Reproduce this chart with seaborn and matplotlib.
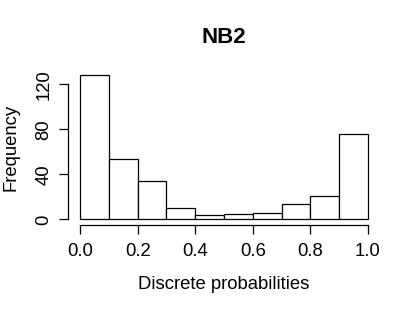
import numpy as np
import pandas as pd
import matplotlib
matplotlib.use("Agg")
import matplotlib.pyplot as plt
import seaborn as sns

# Histogram bins (0.1 wide) and counts
bin_edges = [0.0, 0.1, 0.2, 0.3, 0.4, 0.5, 0.6, 0.7, 0.8, 0.9, 1.0]
counts = [128, 54, 34, 10, 4, 5, 6, 14, 21, 76]
x_ticks = [0.0, 0.2, 0.4, 0.6, 0.8, 1.0]
y_ticks = [0, 40, 80, 120]

sns.set_style("white")
plt.rcParams['font.family'] = ['Liberation Sans', 'DejaVu Sans']
plt.rcParams['text.color'] = 'black'
plt.rcParams['axes.labelcolor'] = 'black'
plt.rcParams['xtick.color'] = 'black'
plt.rcParams['ytick.color'] = 'black'

centers = [(a + b) / 2 for a, b in zip(bin_edges[:-1], bin_edges[1:])]
df = pd.DataFrame({'prob': centers, 'count': counts})

fig = plt.figure(figsize=(4.15, 3.11), dpi=100)
ax = fig.add_axes([0.165, 0.2762, 0.7495, 0.5003])

sns.histplot(data=df, x='prob', weights='count', bins=bin_edges,
             color='white', edgecolor='black', linewidth=0.9, alpha=1,
             ax=ax)

ax.set_xlim(-0.04, 1.04)
ax.set_ylim(-0.04 * max(counts), 1.04 * max(counts))

for side in ['top', 'right']:
    ax.spines[side].set_visible(False)
ax.spines['left'].set_bounds(0, 120)
ax.spines['bottom'].set_bounds(0, 1)
for side in ['left', 'bottom']:
    ax.spines[side].set_color('black')
    ax.spines[side].set_linewidth(0.9)

ax.set_xticks(x_ticks)
ax.set_xticklabels([f'{v:.1f}' for v in x_ticks])
ax.set_yticks(y_ticks)
ax.set_yticklabels([str(v) for v in y_ticks], rotation=90, va='center')
ax.tick_params(axis='both', direction='out', length=6.2, width=0.9,
               color='black', labelcolor='black', labelsize=13.3,
               left=True, bottom=True)
ax.tick_params(axis='x', pad=6.5)
ax.tick_params(axis='y', pad=5.4)

ax.set_xlabel('Discrete probabilities', fontsize=13.3, labelpad=11.9)
ax.set_ylabel('Frequency', fontsize=13.3, labelpad=11.5)
ax.set_title('NB2', fontsize=16, fontweight='bold', pad=18.8)
ax.grid(False)

fig.savefig('out.png', dpi=100)
plt.close(fig)
